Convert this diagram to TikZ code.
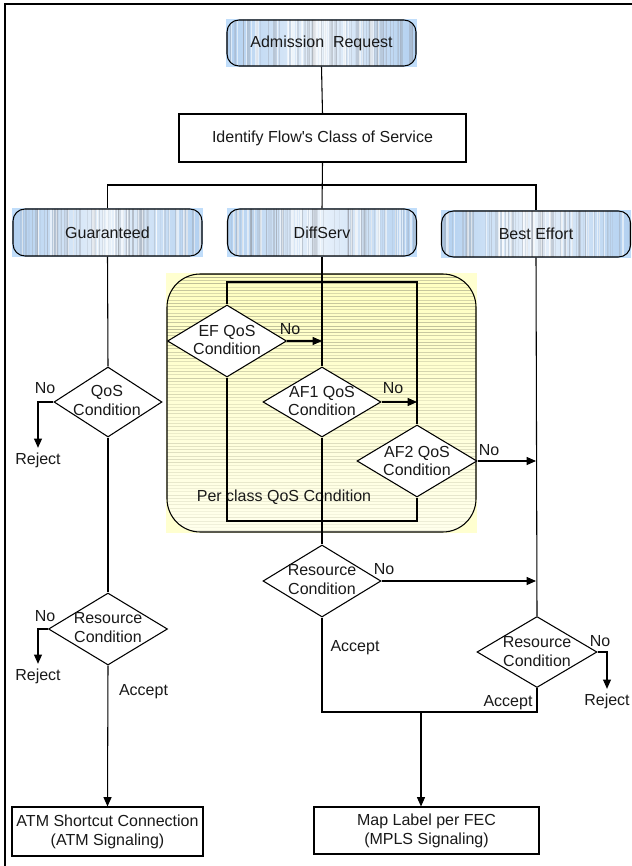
\documentclass[tikz,border=0pt]{standalone}
\usepackage{fontspec}
\setmainfont{Liberation Sans}
\usetikzlibrary{shapes.geometric,arrows.meta,calc,backgrounds}
\newlength\upx
\setlength\upx{0.75pt}
\definecolor{boxblue}{RGB}{178,208,240}
\definecolor{cornerblue}{RGB}{192,221,250}
\definecolor{stripegray}{RGB}{150,154,162}
\definecolor{regyellow}{RGB}{255,255,192}
\definecolor{regfade}{RGB}{255,255,236}
\definecolor{regcorner}{RGB}{255,255,208}
\definecolor{regstripe}{RGB}{160,160,130}

\begin{document}
\begin{tikzpicture}[x=\upx,y=-\upx,
  every node/.style={font=\fontsize{12pt}{14.2pt}\selectfont, text=black!90},
  line/.style={draw=black, line width=0.8pt},
  arr/.style={line, -{Triangle[length=7pt,width=6pt]}},
  classbox/.style n args={3}{draw, line width=0.8pt, rounded corners=9pt,
    minimum width=#1\upx, minimum height=#2\upx, inner sep=0pt,
    left color=boxblue, right color=boxblue, middle color=boxblue!30,
    path picture={
      \pgfmathsetseed{#3}
      \foreach \k in {1,...,85}{
        \pgfmathsetmacro\fx{rnd}
        \pgfmathsetmacro\lw{0.3+1.1*rnd}
        \pgfmathsetmacro\op{0.10+0.30*rnd}
        \draw[stripegray, line width=\lw pt, opacity=\op]
          ($(path picture bounding box.south west)!\fx!(path picture bounding box.south east)$) -- ++(0,-80);
      }
      \foreach \k in {1,...,35}{
        \pgfmathsetmacro\fx{rnd}
        \pgfmathsetmacro\lw{0.4+1.0*rnd}
        \draw[white, line width=\lw pt, opacity=0.55]
          ($(path picture bounding box.south west)!\fx!(path picture bounding box.south east)$) -- ++(0,-80);
      }
    }},
  region/.style={draw, line width=0.8pt, rounded corners=25pt,
    minimum width=309\upx, minimum height=258\upx, inner sep=0pt,
    top color=regyellow, bottom color=regfade,
    path picture={
      \pgfmathsetseed{11}
      \foreach \k in {0,...,80}{
        \pgfmathsetmacro\op{(0.3+0.55*rnd)*(1-\k/105)}
        \draw[regstripe, line width=0.55pt, opacity=\op]
          ($(path picture bounding box.north west)+(0,\k*3.25)$) -- ++(400,0);
      }
    }},
  plainbox/.style n args={2}{draw, line width=0.8pt, fill=white, align=center,
    inner sep=0pt, minimum width=#1\upx, minimum height=#2\upx},
  dia/.style n args={2}{shape=diamond, draw, line width=0.8pt, fill=white,
    inner sep=0pt, minimum width=#1\upx, minimum height=#2\upx},
  lbl/.style={align=center, inner sep=1pt},
  tag/.style={inner sep=1pt}
]
\useasboundingbox (0,0) rectangle (631,866);

% outer frame
\draw[line] (5,866) -- (5,4) -- (634,4);

% top of the flow
\node[classbox={189}{46}{3}] (adm) at (321.5,43) {Admission\ \ Request};
\node[plainbox={287}{48}] (ident) at (322.5,138) {Identify Flow\textquotesingle s Class of Service};

% service classes
\node[classbox={189}{47}{5}] (guar) at (107.5,232.5) {Guaranteed};
\node[classbox={189}{47}{7}] (diff) at (322,232.5) {DiffServ};
\node[classbox={189}{46}{9}] (best) at (536,234) {Best Effort};
\coordinate (fork) at (322,185);

% per class QoS region
\node[region] (region) at (321.5,403) {};
\node[tag] (region-t) at (284,497) {Per class QoS Condition};
\coordinate (railtop) at (322,282);
\coordinate (railbot) at (322,521);

% decisions
\node[dia={119}{72}] (ef) at (227,341) {};
\node[dia={118}{70}] (af1) at (322,402) {};
\node[dia={120}{72}] (af2) at (417,461) {};
\node[dia={118}{72}] (resD) at (322,581) {};
\node[dia={108}{70}] (qosG) at (108,402) {};
\node[dia={119}{72}] (resG) at (108,629) {};
\node[dia={120}{71}] (resB) at (537,652) {};

\node[lbl] (ef-t) at (227,340) {EF QoS\\Condition};
\node[lbl] (af1-t) at (322,401) {AF1 QoS\\Condition};
\node[lbl] (af2-t) at (417,461) {AF2 QoS\\Condition};
\node[lbl] (resD-t) at (322,579.5) {Resource\\Condition};
\node[lbl] (qosG-t) at (107,400.5) {QoS\\Condition};
\node[lbl] (resG-t) at (108,628) {Resource\\Condition};
\node[lbl] (resB-t) at (537,652) {Resource\\Condition};

% outcomes
\node[plainbox={191}{49}] (atm) at (107.5,831.5) {ATM Shortcut Connection\\(ATM Signaling)};
\node[plainbox={225}{47}] (map) at (426.5,830.5) {Map Label per FEC\\(MPLS Signaling)};
\node (rejG1) at (38,460) {Reject};
\node (rejG2) at (38,676) {Reject};
\node (rejB) at (607,701) {Reject};
\coordinate (merge) at (421,712);

% connectors
\draw[line] (adm.south) -- (ident.north);
\draw[line] (ident.south) -- (diff.north);
\draw[line] (guar.north) |- (fork) -| (best.north);

\draw[line] (diff.south) -- (af1.north);
\draw[line] (ef.north) |- (railtop) -| (af2.north);
\draw[line] (ef.south) |- (railbot) -| (af2.south);
\draw[arr] (ef.east) -- (ef.east -| diff.south);
\draw[arr] (af1.east) -- (af1.east -| af2.north);
\draw[arr] (af2.east) -- (af2.east -| best.south);
\draw[line] (af1.south) -- (resD.north);
\draw[arr] (resD.east) -- (resD.east -| best.south);
\draw[line] (best.south) -- (resB.north);
\draw[line] (resD.south) |- (merge) -| (resB.south);
\draw[arr] (merge) -- (merge |- map.north);
\draw[arr] (resB.east) -| (rejB.north);

\draw[line] (guar.south) -- (qosG.north);
\draw[arr] (qosG.west) -| (rejG1.north);
\draw[line] (qosG.south) -- (resG.north);
\draw[arr] (resG.west) -| (rejG2.north);
\draw[arr] (resG.south) -- (atm.north);

% branch labels
\node[tag] (no-ef) at (290,329) {No};
\node[tag] (no-af1) at (393,388) {No};
\node[tag] (no-af2) at (489,450) {No};
\node[tag] (no-resD) at (384,569) {No};
\node[tag] (no-resB) at (600,641) {No};
\node[tag] (no-qosG) at (45,388) {No};
\node[tag] (no-resG) at (45,616) {No};
\node[tag] (acc-resG) at (143.5,692) {Accept};
\node[tag] (acc-resD) at (355,648) {Accept};
\node[tag] (acc-resB) at (508,703) {Accept};

% pale backdrop behind the rounded shapes
\begin{pgfonlayer}{background}
  \foreach \n in {adm,guar,diff,best}
    \fill[cornerblue] (\n.south west) rectangle (\n.north east);
  \fill[regcorner] (region.south west) rectangle (region.north east);
\end{pgfonlayer}
\end{tikzpicture}
\end{document}
